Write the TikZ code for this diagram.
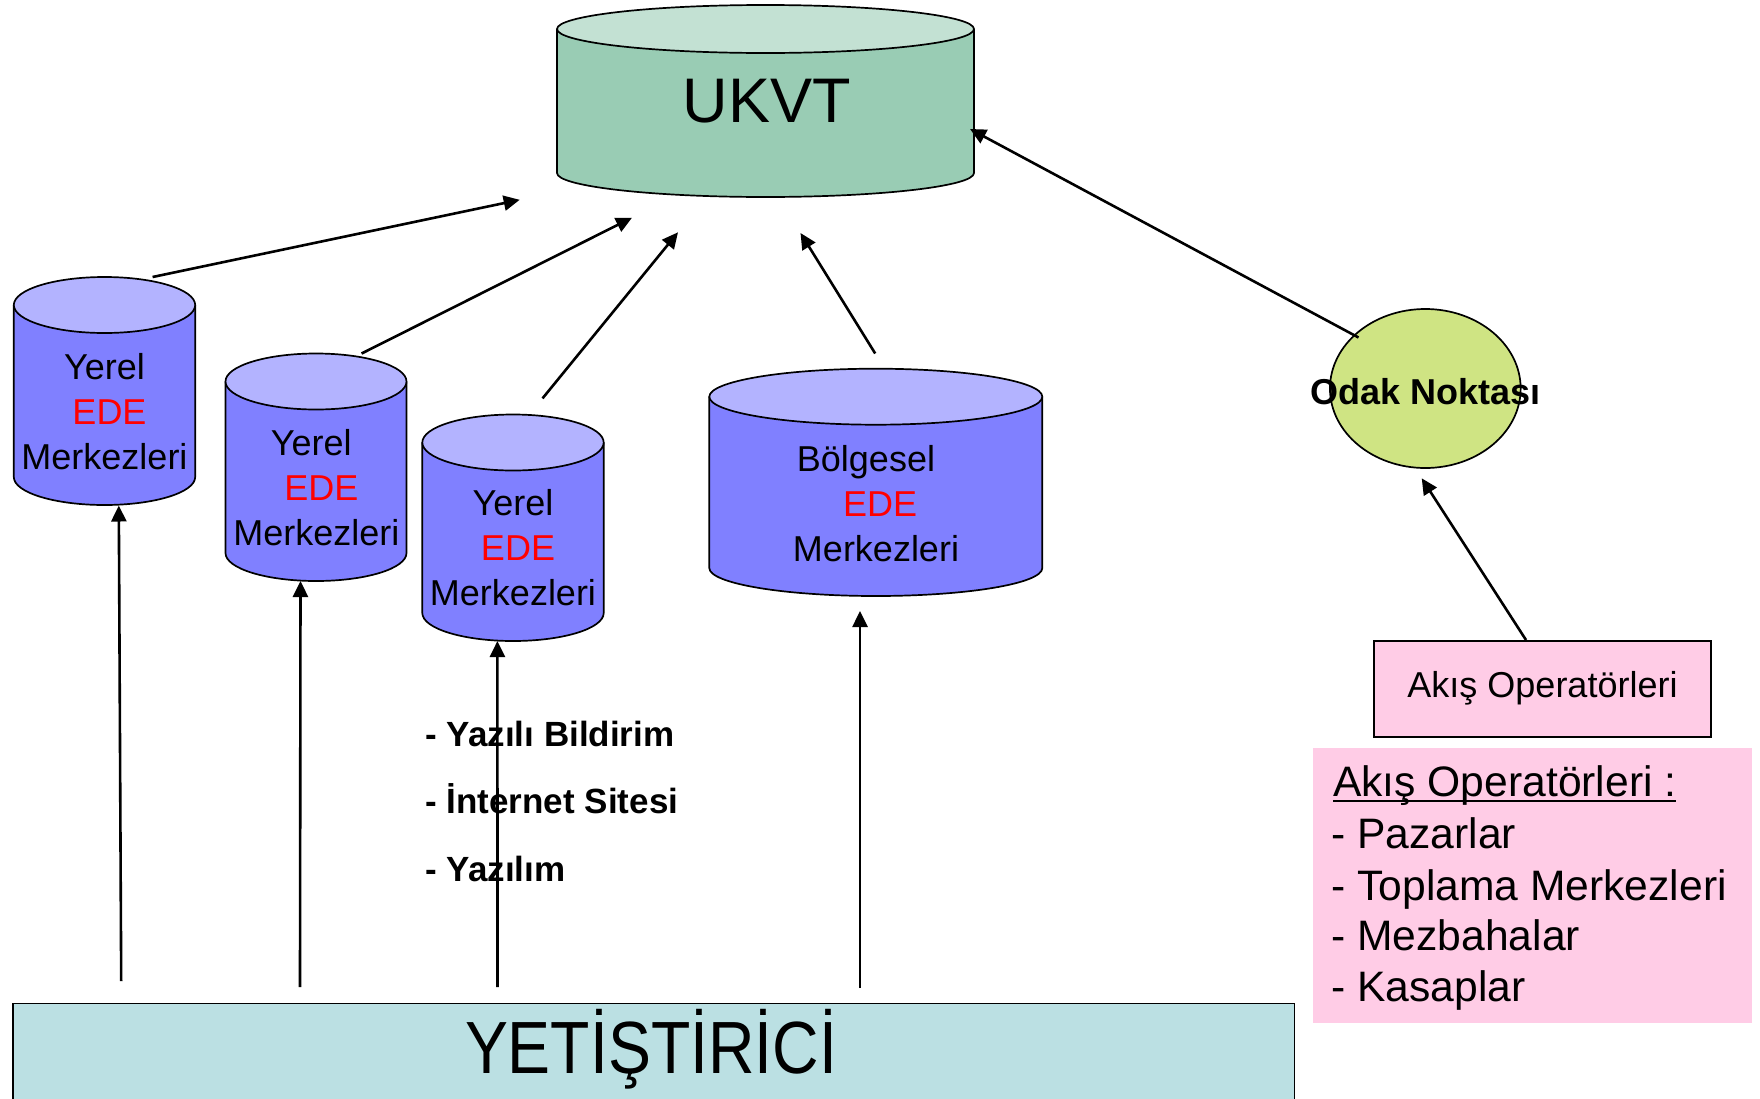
\documentclass[tikz,border=0pt]{standalone}
\usepackage{graphicx}
\usepackage{fontspec}
\setmainfont{Liberation Sans}
\usetikzlibrary{arrows.meta,shapes.geometric}
\definecolor{ukbody}{HTML}{99CCB4}
\definecolor{uktop}{HTML}{C3E1D3}
\definecolor{blbody}{HTML}{8080FF}
\definecolor{bltop}{HTML}{B3B3FF}
\definecolor{odakgreen}{HTML}{CFE483}
\definecolor{pinkbox}{HTML}{FFCCE6}
\definecolor{yetbox}{HTML}{BBE0E3}
\definecolor{edered}{HTML}{FF0000}
\newcommand\mycyl[7]{%
 \fill[#6] ({#1-#4},#2) -- ({#1-#4},#3) arc[start angle=180,end angle=0,x radius=#4,y radius=#5] -- ({#1+#4},#2) -- cycle;
 \draw[outl] ({#1-#4},#2) -- ({#1-#4},#3) arc[start angle=180,end angle=0,x radius=#4,y radius=#5] -- ({#1+#4},#2);
 \filldraw[outl,fill=#7] (#1,#2) ellipse[x radius=#4,y radius=#5];
}
\newcommand\myul[1]{\setbox0\hbox{#1}\rlap{\rule[-2.8pt]{\wd0}{0.8pt}}\box0}
\begin{document}
\begin{tikzpicture}[x=0.5pt,y=-0.5pt,
  outl/.style={draw=black,line width=0.85pt},
  arr/.style={-{Triangle[length=8pt,width=7.5pt]},line width=1.3pt},
  cyltext/.style={align=center,font=\fontsize{18pt}{22.5pt}\selectfont,inner sep=0pt},
  listtext/.style={anchor=base west,inner sep=0pt,font=\fontsize{17.5pt}{21pt}\selectfont\bfseries},
  pinktext/.style={anchor=base west,inner sep=0pt,font=\fontsize{21.3pt}{25.7pt}\selectfont}]
\useasboundingbox (0,0) rectangle (1760,1098);
\clip (0,0) rectangle (1760,1098);
\fill[white] (0,0) rectangle (1760,1098);

% cylinders
\mycyl{765.5}{29}{173}{208.5}{24}{ukbody}{uktop}
\mycyl{104.5}{305}{477}{90.7}{28}{blbody}{bltop}
\mycyl{316}{381.5}{553}{90.5}{28}{blbody}{bltop}
\mycyl{513}{442.5}{613}{90.7}{28}{blbody}{bltop}
\mycyl{875.8}{396.7}{568}{166.5}{28}{blbody}{bltop}

\node[inner sep=0pt,font=\fontsize{31.5pt}{36pt}\selectfont] (ukvt) at (767,100.8) {UKVT};
\node[cyltext] (c1) at (104.5,412) {Yerel\\\hspace*{5pt}\textcolor{edered}{EDE}\\Merkezleri};
\node[cyltext] (c2) at (316.3,488) {Yerel\hspace*{5pt}\\\hspace*{5pt}\textcolor{edered}{EDE}\\Merkezleri};
\node[cyltext] (c3) at (513,548) {Yerel\\\hspace*{5pt}\textcolor{edered}{EDE}\\Merkezleri};
\node[cyltext] (bolg) at (876,503.3) {Bölgesel\hspace*{10pt}\\\hspace*{4pt}\textcolor{edered}{EDE}\\Merkezleri};

% Odak Noktasi
\node[ellipse,outl,fill=odakgreen,minimum width=95.35pt,minimum height=79.5pt,inner sep=0pt] (odak) at (1425.3,388.5) {};
\node[inner sep=0pt,font=\fontsize{18pt}{22pt}\selectfont\bfseries] (odaktxt) at (1425.8,391.7) {Odak Noktası};

% Akis box
\node[rectangle,outl,fill=pinkbox,minimum width=168.2pt,minimum height=48pt,inner sep=0pt,font=\fontsize{18pt}{22pt}\selectfont] (akis) at (1542.5,688.7) {Akış Operatörleri};

% big pink box
\node[rectangle,fill=pinkbox,minimum width=219.7pt,minimum height=137.5pt,inner sep=0pt,anchor=north west] (pink) at (1312.3,747.3) {};
\node[pinktext] (p0) at (1332.7,796) {\myul{Akış Operatörleri :}};
\node[pinktext] (p1) at (1331,848.3) {- Pazarlar};
\node[pinktext] (p2) at (1331,900) {- Toplama Merkezleri};
\node[pinktext] (p3) at (1331,950.7) {- Mezbahalar};
\node[pinktext] (p4) at (1331,1001.7) {- Kasaplar};

% Yetistirici
\node[rectangle,outl,fill=yetbox,minimum width=640.55pt,minimum height=60pt,inner sep=0pt,anchor=north west] (yet) at (12.4,1002.7) {};
\node[anchor=base,inner sep=0pt,font=\fontsize{37pt}{44pt}\selectfont] (yettxt) at (651,1073.3) {\scalebox{0.87}[1]{YETİŞTİRİCİ}};

% list
\node[listtext] (l1) at (425,746.7) {- Yazılı Bildirim};
\node[listtext] (l2) at (425,813.3) {- İnternet Sitesi};
\node[listtext] (l3) at (425,881.7) {- Yazılım};

% connector end points
\coordinate (c1top) at (152.6,277);
\coordinate (c2top) at (361.6,353.5);
\coordinate (c3top) at (542.5,398.4);
\coordinate (bolgtop) at (875.2,353.5);
\coordinate (odakout) at (1358.5,337.5);
\coordinate (akistop) at (1526,640);
\coordinate (u1) at (519.7,199.8);
\coordinate (u2) at (632,217.7);
\coordinate (u3) at (678,232.3);
\coordinate (u4) at (800.5,233);
\coordinate (u5) at (970,129);
\coordinate (odakin) at (1421.7,478.3);
\coordinate (y1) at (121.2,981);
\coordinate (y2) at (300,987);
\coordinate (y3) at (497.5,987);
\coordinate (y4) at (860,988);
\coordinate (c1bot) at (118.8,505.5);
\coordinate (c2bot) at (300.5,581);
\coordinate (c3bot) at (497.4,641);
\coordinate (bolgbot) at (860,611);

\draw[arr] (c1top) -- (u1);
\draw[arr] (c2top) -- (u2);
\draw[arr] (c3top) -- (u3);
\draw[arr] (bolgtop) -- (u4);
\draw[arr] (odakout) -- (u5);
\draw[arr] (akistop) -- (odakin);
\draw[arr] (y1) -- (c1bot);
\draw[arr] (y2) -- (c2bot);
\draw[arr] (y3) -- (c3bot);
\draw[arr] (y4) -- (bolgbot);
\end{tikzpicture}
\end{document}
